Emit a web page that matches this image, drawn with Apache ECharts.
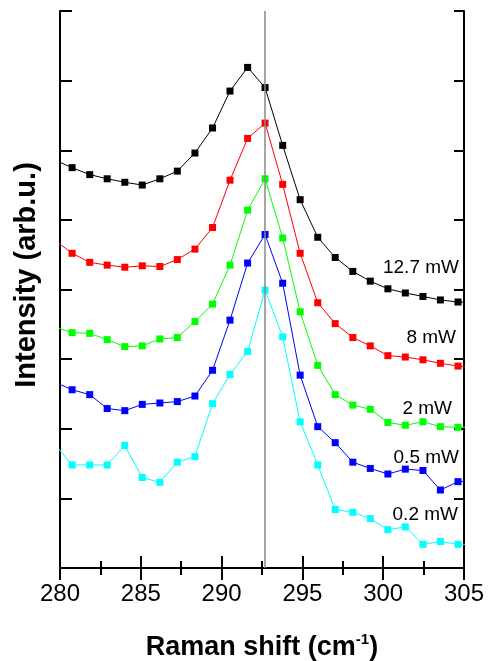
<!DOCTYPE html>
<html>
<head>
<meta charset="utf-8">
<script src="https://cdn.jsdelivr.net/npm/echarts@6/dist/echarts.min.js"></script>
<style>
  html, body { margin: 0; padding: 0; background: #fff; }
  #chart { width: 489px; height: 661px; }
</style>
</head>
<body>
<div id="chart"></div>
<script>
// Raman shift positions (cm-1), incl. one point just outside each edge
const ramanShift = [279.67, 280.75, 281.84, 282.92, 284.01, 285.09, 286.18, 287.26, 288.35,
  289.44, 290.52, 291.61, 292.69, 293.78, 294.86, 295.95, 297.03, 298.12, 299.20, 300.29,
  301.37, 302.46, 303.54, 304.63, 305.71];

// offset intensities, one array per laser power
const p12_7 = [5.86, 5.75, 5.65, 5.59, 5.54, 5.50, 5.59, 5.70, 5.96, 6.32, 6.85, 7.19, 6.90,
  6.07, 5.29, 4.75, 4.46, 4.26, 4.12, 4.01, 3.95, 3.90, 3.85, 3.82, 3.81];
const p8 = [4.71, 4.52, 4.39, 4.35, 4.32, 4.34, 4.33, 4.43, 4.58, 4.89, 5.57, 6.17, 6.39,
  5.51, 4.52, 3.81, 3.51, 3.31, 3.19, 3.05, 3.03, 2.99, 2.94, 2.90, 2.88];
const p2 = [3.46, 3.38, 3.37, 3.28, 3.18, 3.19, 3.29, 3.31, 3.54, 3.79, 4.35, 5.14, 5.59,
  4.74, 3.68, 2.91, 2.49, 2.34, 2.28, 2.09, 2.05, 2.10, 2.03, 2.02, 2.02];
const p0_5 = [2.67, 2.56, 2.49, 2.29, 2.26, 2.35, 2.37, 2.39, 2.47, 2.84, 3.56, 4.38, 4.79,
  4.09, 2.77, 2.03, 1.80, 1.52, 1.43, 1.35, 1.42, 1.40, 1.12, 1.24, 1.25];
const p0_2 = [1.78, 1.48, 1.48, 1.48, 1.76, 1.30, 1.23, 1.52, 1.60, 2.36, 2.78, 3.11, 3.99,
  3.32, 2.10, 1.48, 0.84, 0.80, 0.71, 0.55, 0.59, 0.34, 0.38, 0.34, 0.34];

const seriesNames = ["12.7 mW", "8 mW", "2 mW", "0.5 mW", "0.2 mW"];
const seriesColors = ["#000000", "#ff0000", "#00ff00", "#0000ff", "#00ffff"];
const peakLine = 292.7;

const font = "Arial, 'Liberation Sans', sans-serif";

let myChart = echarts.init(document.getElementById("chart"));

function pairs(ys) {
  return ys.map((y, i) => [ramanShift[i], y]);
}

const allData = [p12_7, p8, p2, p0_5, p0_2];

let series = allData.map((ys, k) => ({
  name: seriesNames[k],
  type: "line",
  data: pairs(ys),
  clip: true,
  symbol: "rect",
  symbolSize: 7,
  showAllSymbol: true,
  lineStyle: { color: seriesColors[k], width: 1 },
  itemStyle: { color: seriesColors[k] },
  z: 3,
  animation: false,
}));

// grey vertical line at the peak position
series[0].markLine = {
  silent: true,
  symbol: "none",
  label: { show: false },
  lineStyle: { color: "#888888", width: 1.5, type: "solid" },
  data: [{ xAxis: peakLine }],
  z: 10,
};

// labels next to each curve (right side)
const labelPos = [[459, 268], [456, 338], [452, 409], [459, 458], [458, 515]];

let option = {
  animation: false,
  backgroundColor: "#ffffff",
  grid: { left: 60, right: 25, top: 11, bottom: 93, outerBoundsMode: "none" },
  xAxis: [
    {
      type: "value",
      min: 280,
      max: 305,
      interval: 5,
      position: "bottom",
      axisLine: { lineStyle: { color: "#000", width: 2 } },
      axisTick: { inside: true, length: 12, lineStyle: { color: "#000", width: 2 } },
      minorTick: { show: true, splitNumber: 2, length: 7, lineStyle: { color: "#000", width: 2 } },
      splitLine: { show: false },
      axisLabel: { color: "#000", fontSize: 24, fontFamily: font, margin: 14 },
      name: "{a|Raman shift (cm}{s|-1}{a|)}",
      nameLocation: "middle",
      nameGap: 64,
      nameTextStyle: {
        rich: {
          a: { fontSize: 27, fontWeight: "bold", fontFamily: font, color: "#000" },
          s: { fontSize: 15, fontWeight: "bold", fontFamily: font, color: "#000", padding: [0, 0, 17, 0] },
        },
      },
    },
    {
      type: "value",
      min: 280,
      max: 305,
      interval: 5,
      position: "top",
      axisLine: { lineStyle: { color: "#000", width: 2 } },
      axisTick: { inside: true, length: 12, lineStyle: { color: "#000", width: 2 } },
      minorTick: { show: true, splitNumber: 2, length: 7, lineStyle: { color: "#000", width: 2 } },
      splitLine: { show: false },
      axisLabel: { show: false },
    },
  ],
  yAxis: [
    {
      type: "value",
      min: 0,
      max: 8,
      interval: 1,
      position: "left",
      axisLine: { show: true, lineStyle: { color: "#000", width: 2 } },
      axisTick: { show: true, inside: true, length: 12, lineStyle: { color: "#000", width: 2 } },
      splitLine: { show: false },
      axisLabel: { show: false },
    },
    {
      type: "value",
      min: 0,
      max: 8,
      interval: 1,
      position: "right",
      axisLine: { show: true, lineStyle: { color: "#000", width: 2 } },
      axisTick: { show: true, inside: true, length: 10, lineStyle: { color: "#000", width: 2 } },
      splitLine: { show: false },
      axisLabel: { show: false },
    },
  ],
  graphic: [
    {
      type: "text",
      x: 27,
      y: 275,
      rotation: Math.PI / 2,
      style: {
        text: "Intensity (arb.u.)",
        font: "bold 29px " + font,
        fill: "#000",
        align: "center",
        verticalAlign: "middle",
      },
    },
  ].concat(
    seriesNames.map((t, k) => ({
      type: "text",
      x: labelPos[k][0],
      y: labelPos[k][1],
      style: {
        text: t,
        font: "19px " + font,
        fill: "#000",
        align: "right",
        verticalAlign: "middle",
      },
    }))
  ),
  series: series,
};

option && myChart.setOption(option);
</script>
</body>
</html>
